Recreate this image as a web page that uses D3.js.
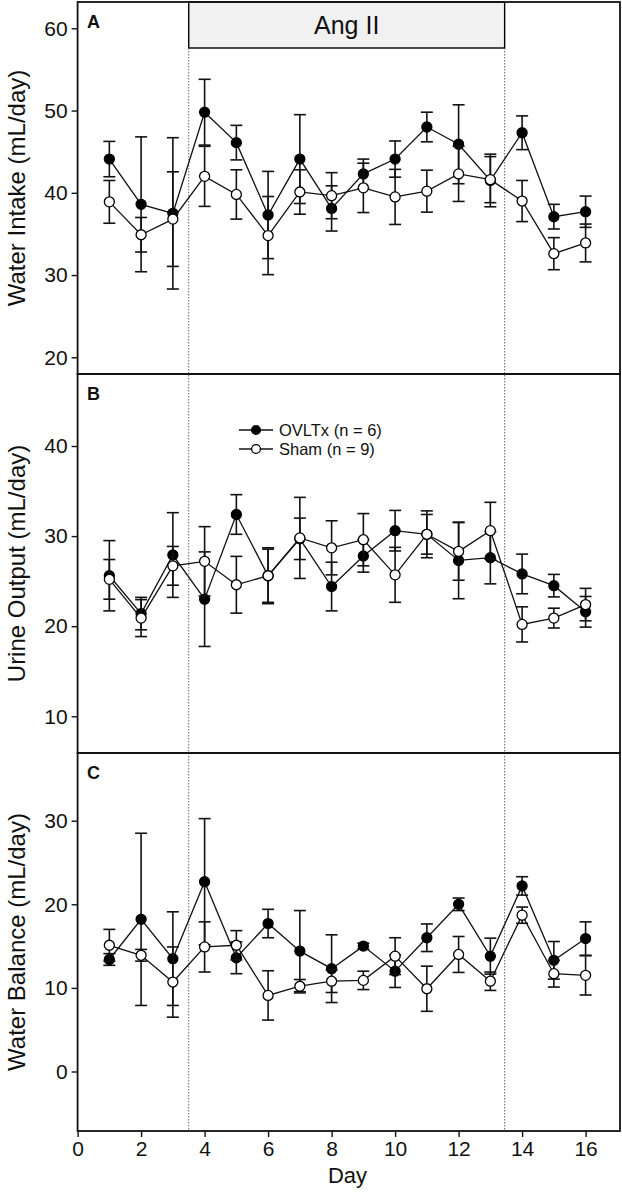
<!DOCTYPE html>
<html>
<head>
<meta charset="utf-8">
<script src="https://cdn.jsdelivr.net/npm/d3@7"></script>
<style>
  html, body { margin: 0; padding: 0; background: #fff; }
  svg { display: block; font-family: "Liberation Sans", Arial, sans-serif; }
</style>
</head>
<body>
<svg id="chart" width="622" height="1192"></svg>
<script>
// ---------------- DATA ----------------
const days = [1,2,3,4,5,6,7,8,9,10,11,12,13,14,15,16];
const xTicks = [0,2,4,6,8,10,12,14,16];
const angStart = 3.5, angEnd = 13.45;
const angLabel = "Ang II";
const seriesNames = ["OVLTx (n = 6)", "Sham (n = 9)"];

// Panel A: Water Intake
const intakeOVLTx     = [44.1, 38.6, 37.5, 49.8, 46.1, 37.3, 44.1, 38.1, 42.3, 44.1, 48.0, 45.9, 41.5, 47.3, 37.1, 37.7];
const intakeOVLTxSEM  = [2.15, 8.2, 9.2, 4.0, 2.1, 5.3, 5.4, 2.75, 1.8, 2.2, 1.8, 4.8, 3.2, 2.05, 1.5, 1.9];
const intakeSham      = [38.9, 34.9, 36.8, 42.0, 39.8, 34.8, 40.1, 39.65, 40.6, 39.5, 40.2, 42.3, 41.6, 39.0, 32.6, 33.9];
const intakeShamSEM   = [2.6, 2.1, 5.75, 3.65, 3.0, 4.75, 2.7, 2.8, 3.0, 3.35, 2.55, 3.35, 2.8, 2.5, 1.95, 2.3];
const intakeTicks     = [20, 30, 40, 50, 60];

// Panel B: Urine Output
const urineOVLTx      = [25.6, 21.4, 27.9, 23.0, 32.4, 25.6, 29.7, 24.4, 27.8, 30.6, 30.2, 27.3, 27.6, 25.8, 24.5, 21.6];
const urineOVLTxSEM   = [3.9, 1.8, 4.7, 5.25, 2.2, 3.1, 2.3, 2.7, 1.8, 2.25, 2.6, 4.25, 2.9, 2.2, 1.25, 1.7];
const urineSham       = [25.2, 20.9, 26.7, 27.2, 24.6, 25.6, 29.8, 28.7, 29.6, 25.7, 30.2, 28.3, 30.6, 20.2, 20.9, 22.4];
const urineShamSEM    = [2.2, 2.05, 2.15, 3.85, 3.15, 2.95, 4.5, 3.0, 2.9, 3.05, 2.2, 3.2, 3.15, 1.95, 1.1, 1.8];
const urineTicks      = [10, 20, 30, 40];

// Panel C: Water Balance
const balanceOVLTx    = [13.4, 18.2, 13.5, 22.7, 13.6, 17.7, 14.4, 12.3, 15.0, 12.0, 16.0, 20.0, 13.8, 22.2, 13.3, 15.9];
const balanceOVLTxSEM = [0.7, 10.3, 5.6, 7.55, 1.9, 1.7, 4.85, 4.05, 0.35, 1.95, 1.65, 0.75, 2.15, 1.1, 2.25, 2.0];
const balanceSham     = [15.1, 13.9, 10.7, 14.9, 15.1, 9.1, 10.2, 10.8, 10.9, 13.8, 9.9, 14.0, 10.8, 18.7, 11.7, 11.5];
const balanceShamSEM  = [1.9, 0.7, 4.2, 3.0, 1.75, 2.95, 0.8, 1.35, 1.1, 2.2, 2.7, 2.15, 1.1, 0.97, 1.6, 2.35];
const balanceTicks    = [0, 10, 20, 30];

// ---------------- LAYOUT ----------------
const svg = d3.select("#chart");
const left = 77.6, right = 620;
const x = d3.scaleLinear().domain([0, 16]).range([77.6, 585.6]);

const panels = [
  { letter: "A", title: "Water Intake (mL/day)", top: 2, bottom: 374,
    domain: [20, 60], range: [357.3, 28.3], ticks: intakeTicks,
    ov: intakeOVLTx, ovE: intakeOVLTxSEM, sh: intakeSham, shE: intakeShamSEM },
  { letter: "B", title: "Urine Output (mL/day)", top: 374, bottom: 753,
    domain: [10, 40], range: [716.3, 446], ticks: urineTicks,
    ov: urineOVLTx, ovE: urineOVLTxSEM, sh: urineSham, shE: urineShamSEM },
  { letter: "C", title: "Water Balance (mL/day)", top: 753, bottom: 1131,
    domain: [0, 30], range: [1071.5, 820.7], ticks: balanceTicks,
    ov: balanceOVLTx, ovE: balanceOVLTxSEM, sh: balanceSham, shE: balanceShamSEM }
];

const tickFont = 21, titleFont = 24;

// Ang II box
svg.append("rect")
  .attr("x", x(angStart)).attr("y", 2)
  .attr("width", x(angEnd) - x(angStart)).attr("height", 46)
  .attr("fill", "#f1f1f1").attr("stroke", "#000").attr("stroke-width", 1.4);
svg.append("text")
  .attr("x", (x(angStart) + x(angEnd)) / 2).attr("y", 34)
  .attr("text-anchor", "middle").attr("font-size", 25).attr("fill", "#111").text(angLabel);

// dotted vertical lines
[angStart, angEnd].forEach(d => {
  svg.append("line")
    .attr("x1", x(d)).attr("x2", x(d)).attr("y1", 48).attr("y2", 1131)
    .attr("stroke", "#444").attr("stroke-width", 0.8)
    .attr("stroke-dasharray", "1.5,1.5");
});

panels.forEach(p => {
  const y = d3.scaleLinear().domain(p.domain).range(p.range);
  const g = svg.append("g");

  // frame
  g.append("rect")
    .attr("x", left).attr("y", p.top)
    .attr("width", right - left).attr("height", p.bottom - p.top)
    .attr("fill", "none").attr("stroke", "#111").attr("stroke-width", 1.8);

  // y axis
  const ax = g.append("g").attr("transform", `translate(${left},0)`)
    .call(d3.axisLeft(y).tickValues(p.ticks).tickSize(6).tickPadding(4).tickFormat(d3.format("d")));
  ax.select(".domain").remove();
  ax.selectAll("line").attr("stroke", "#111").attr("stroke-width", 1.4);
  ax.selectAll("text").attr("font-size", tickFont).attr("fill", "#111")
    .attr("font-family", '"Liberation Sans", Arial, sans-serif');

  // y title
  g.append("text")
    .attr("transform", `translate(25,${(p.top + p.bottom) / 2}) rotate(-90)`)
    .attr("text-anchor", "middle").attr("font-size", titleFont).attr("fill", "#111")
    .text(p.title);

  // panel letter
  g.append("text").attr("x", 87).attr("y", p.top + 26)
    .attr("font-size", 18).attr("font-weight", "bold").attr("fill", "#111").text(p.letter);

  const line = d3.line().x((d, i) => x(days[i])).y(d => y(d));
  const drawSeries = (vals, errs, filled) => {
    const s = g.append("g");
    s.append("path").datum(vals).attr("d", line)
      .attr("fill", "none").attr("stroke", "#111").attr("stroke-width", 1.3);
    vals.forEach((v, i) => {
      const cx = x(days[i]);
      const hi = y(v + errs[i]), lo = y(v - errs[i]);
      s.append("line").attr("x1", cx).attr("x2", cx).attr("y1", hi).attr("y2", lo)
        .attr("stroke", "#111").attr("stroke-width", 1.6);
      [hi, lo].forEach(yy => s.append("line")
        .attr("x1", cx - 6).attr("x2", cx + 6).attr("y1", yy).attr("y2", yy)
        .attr("stroke", "#111").attr("stroke-width", 1.6));
    });
    s.selectAll("circle").data(vals).enter().append("circle")
      .attr("cx", (d, i) => x(days[i])).attr("cy", d => y(d)).attr("r", 5)
      .attr("fill", filled ? "#000" : "#fff").attr("stroke", "#000").attr("stroke-width", 1.3);
  };
  drawSeries(p.ov, p.ovE, true);
  drawSeries(p.sh, p.shE, false);
});

// x axis
const xa = svg.append("g").attr("transform", "translate(0,1131)")
  .call(d3.axisBottom(x).tickValues(xTicks).tickSize(6).tickPadding(4).tickFormat(d3.format("d")));
xa.select(".domain").remove();
xa.selectAll("line").attr("stroke", "#111").attr("stroke-width", 1.4);
xa.selectAll("text").attr("font-size", tickFont).attr("fill", "#111")
  .attr("font-family", '"Liberation Sans", Arial, sans-serif');
svg.append("text").attr("x", x(8.5)).attr("y", 1183)
  .attr("text-anchor", "middle").attr("font-size", 22).attr("fill", "#111").text("Day");

// legend
const legend = svg.append("g");
seriesNames.forEach((name, i) => {
  const ly = 430 + i * 19;
  legend.append("line").attr("x1", 239).attr("x2", 273).attr("y1", ly).attr("y2", ly)
    .attr("stroke", "#111").attr("stroke-width", 1.3);
  legend.append("circle").attr("cx", 256).attr("cy", ly).attr("r", 4.4)
    .attr("fill", i === 0 ? "#000" : "#fff").attr("stroke", "#000").attr("stroke-width", 1.3);
  legend.append("text").attr("x", 279).attr("y", ly + 6)
    .attr("font-size", 16.5).attr("fill", "#111").text(name);
});
</script>
</body>
</html>
